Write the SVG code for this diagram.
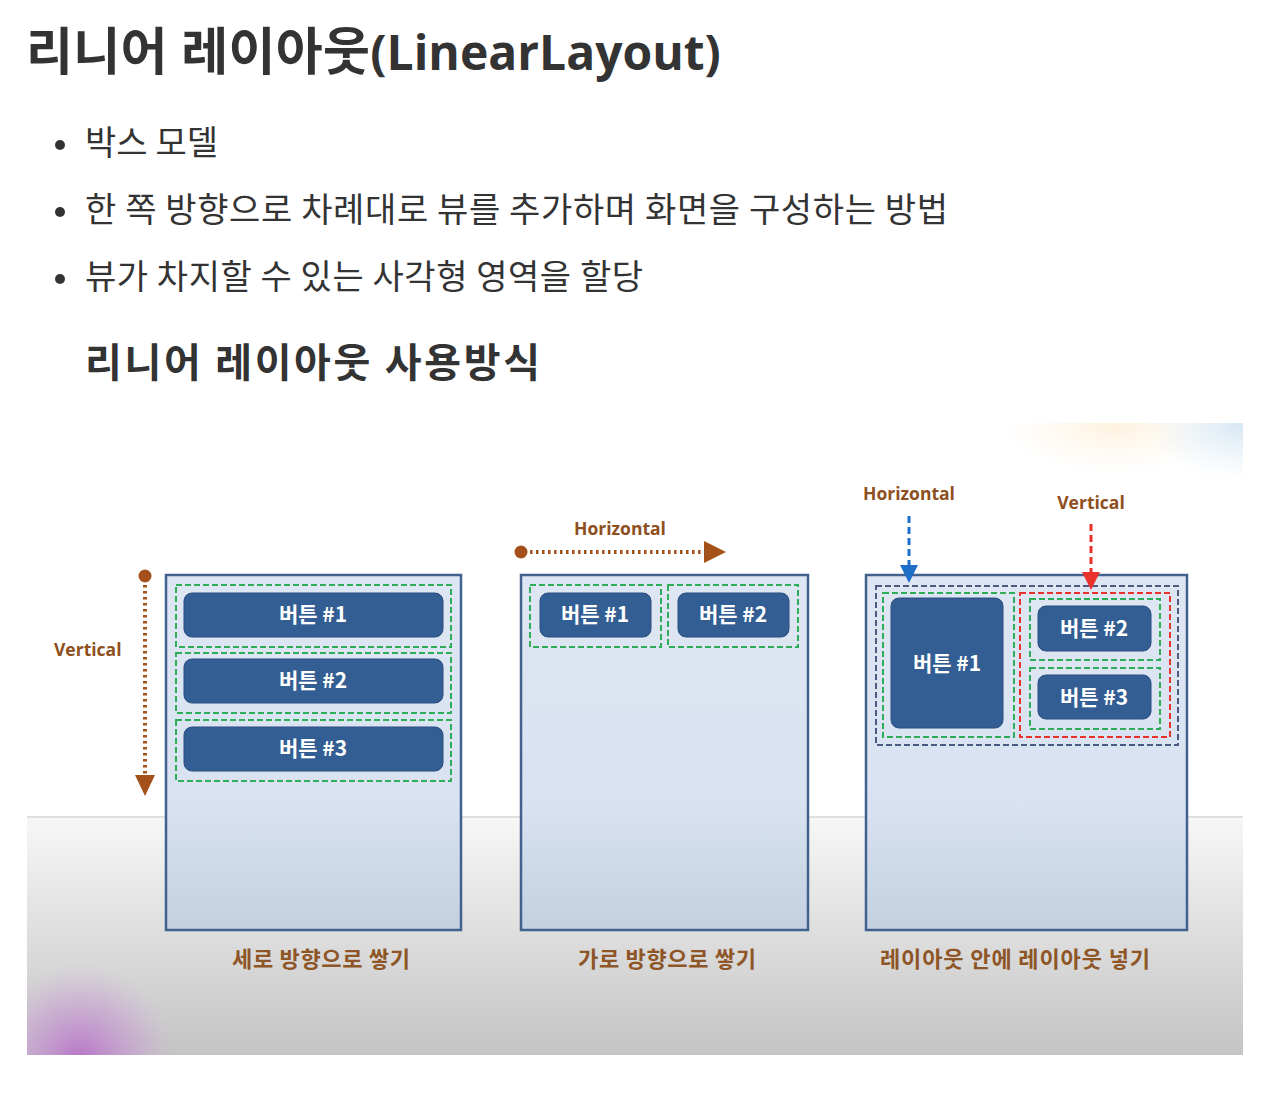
<svg xmlns="http://www.w3.org/2000/svg" width="1273" height="1101" viewBox="0 0 1273 1101">
<defs>
<style>
.h1{font-family:"Open Sans","Noto Sans CJK KR",sans-serif;font-weight:700;font-size:48px;fill:#333}
.h2{font-family:"Noto Sans CJK KR",sans-serif;font-weight:700;font-size:40px;fill:#333}
.li{font-family:"Noto Sans CJK KR",sans-serif;font-weight:400;font-size:34px;fill:#333}
.panel{fill:url(#pg);stroke:#41628f;stroke-width:2.5}
.btn{fill:#335e94;stroke:#2a4f80;stroke-width:1}
.bt{font-family:"Noto Sans CJK KR",sans-serif;font-weight:700;font-size:21px;fill:#fff;text-anchor:middle}
.g{fill:none;stroke:#2fae5a;stroke-width:2;stroke-dasharray:6 3}
.nv{fill:none;stroke:#4b5a80;stroke-width:2;stroke-dasharray:6 3}
.rd{fill:none;stroke:#e8322b;stroke-width:2;stroke-dasharray:6 3}
.lab{font-family:"Open Sans","Noto Sans CJK KR",sans-serif;font-weight:700;font-size:17.5px;fill:#8e4f20}
.cap{font-family:"Noto Sans CJK KR",sans-serif;font-weight:700;font-size:22px;fill:#8e5526;text-anchor:middle}
.dot{fill:none;stroke:#a4501a;stroke-width:4;stroke-dasharray:2.5 3.5}
</style>
<linearGradient id="bg" x1="0" y1="0" x2="0" y2="1">
<stop offset="0" stop-color="#f7f7f7"/>
<stop offset="1" stop-color="#c4c4c4"/>
</linearGradient>
<linearGradient id="pg" x1="0" y1="0" x2="0" y2="1">
<stop offset="0" stop-color="#dfe6f3"/>
<stop offset="0.65" stop-color="#d8e2f0"/>
<stop offset="1" stop-color="#c4d0e0"/>
</linearGradient>
<radialGradient id="pur" cx="80" cy="1060" r="95" gradientUnits="userSpaceOnUse">
<stop offset="0" stop-color="#b56cc8" stop-opacity="0.9"/>
<stop offset="0.6" stop-color="#c890d6" stop-opacity="0.45"/>
<stop offset="1" stop-color="#d0a8dc" stop-opacity="0"/>
</radialGradient>
<radialGradient id="peach" cx="1115" cy="425" r="80" gradientUnits="userSpaceOnUse" gradientTransform="translate(1115 425) scale(1.4 0.6) translate(-1115 -425)">
<stop offset="0" stop-color="#fdecd0" stop-opacity="0.7"/>
<stop offset="1" stop-color="#fff4e0" stop-opacity="0"/>
</radialGradient>
<radialGradient id="blue" cx="1240" cy="425" r="80" gradientUnits="userSpaceOnUse" gradientTransform="translate(1240 425) scale(1.2 0.7) translate(-1240 -425)">
<stop offset="0" stop-color="#d3e5f1" stop-opacity="0.9"/>
<stop offset="1" stop-color="#e4f0f8" stop-opacity="0"/>
</radialGradient>
<clipPath id="img"><rect x="27" y="423" width="1216" height="632"/></clipPath>
</defs>
<rect width="1273" height="1101" fill="#fff"/>

<g id="header">
<text class="h1" x="26" y="70"><tspan font-size="51" textLength="344">리니어 레이아웃</tspan><tspan>(LinearLayout)</tspan></text>
<circle cx="60" cy="145" r="5" fill="#333"/>
<text class="li" x="85" y="155" textLength="133">박스 모델</text>
<circle cx="60" cy="212" r="5" fill="#333"/>
<text class="li" x="85" y="222" textLength="863">한 쪽 방향으로 차례대로 뷰를 추가하며 화면을 구성하는 방법</text>
<circle cx="60" cy="279" r="5" fill="#333"/>
<text class="li" x="85" y="289" textLength="558">뷰가 차지할 수 있는 사각형 영역을 할당</text>
<text class="h2" x="85" y="377" textLength="455">리니어 레이아웃 사용방식</text>
</g>

<g id="background" clip-path="url(#img)">
<rect x="27" y="423" width="1216" height="632" fill="#fff"/>
<rect x="27" y="423" width="1216" height="80" fill="url(#peach)"/>
<rect x="27" y="423" width="1216" height="80" fill="url(#blue)"/>
<rect x="27" y="817" width="1216" height="238" fill="url(#bg)"/>
<line x1="27" y1="817" x2="1243" y2="817" stroke="#d6d6d6" stroke-width="1.5"/>
<rect x="27" y="940" width="200" height="115" fill="url(#pur)"/>
</g>

<g id="panel1">
<rect class="panel" x="166" y="575" width="295" height="355"/>
<rect class="g" x="176" y="585" width="275" height="62"/>
<rect class="g" x="176" y="653" width="275" height="60"/>
<rect class="g" x="176" y="720" width="275" height="61"/>
<rect class="btn" x="184" y="593" width="259" height="44" rx="8"/>
<rect class="btn" x="184" y="659" width="259" height="44" rx="8"/>
<rect class="btn" x="184" y="727" width="259" height="44" rx="8"/>
<text class="bt" x="313" y="622">버튼 #1</text>
<text class="bt" x="313" y="688">버튼 #2</text>
<text class="bt" x="313" y="756">버튼 #3</text>
<text class="cap" x="321" y="967" textLength="178">세로 방향으로 쌓기</text>
</g>

<g id="panel2">
<rect class="panel" x="521" y="575" width="287" height="355"/>
<rect class="g" x="530" y="585" width="131" height="62"/>
<rect class="g" x="668" y="585" width="130" height="62"/>
<rect class="btn" x="540" y="593" width="111" height="44" rx="8"/>
<rect class="btn" x="678" y="593" width="111" height="44" rx="8"/>
<text class="bt" x="595" y="622">버튼 #1</text>
<text class="bt" x="733" y="622">버튼 #2</text>
<text class="cap" x="667" y="967" textLength="178">가로 방향으로 쌓기</text>
</g>

<g id="panel3">
<rect class="panel" x="866" y="575" width="321" height="355"/>
<rect class="nv" x="876" y="586" width="302" height="159"/>
<rect class="g" x="883" y="593" width="131" height="144"/>
<rect class="rd" x="1020" y="593" width="150" height="144"/>
<rect class="g" x="1030" y="599" width="130" height="61"/>
<rect class="g" x="1030" y="668" width="130" height="61"/>
<rect class="btn" x="891" y="598" width="112" height="130" rx="8"/>
<rect class="btn" x="1038" y="606" width="113" height="45" rx="8"/>
<rect class="btn" x="1038" y="675" width="113" height="44" rx="8"/>
<text class="bt" x="947" y="671">버튼 #1</text>
<text class="bt" x="1094" y="636">버튼 #2</text>
<text class="bt" x="1094" y="705">버튼 #3</text>
<text class="cap" x="1015" y="967" textLength="270">레이아웃 안에 레이아웃 넣기</text>
</g>

<g id="connectors">
<g id="vertical-arrow">
<text class="lab" x="54" y="656">Vertical</text>
<circle cx="145" cy="576" r="6.5" fill="#a4501a"/>
<line class="dot" x1="145" y1="585" x2="145" y2="776"/>
<polygon points="135,775 155,775 145,796" fill="#a4501a"/>
</g>
<g id="horizontal-arrow">
<text class="lab" x="620" y="535" text-anchor="middle">Horizontal</text>
<circle cx="521" cy="552" r="6.5" fill="#a4501a"/>
<line class="dot" x1="530" y1="552" x2="705" y2="552"/>
<polygon points="704,541 704,563 726,552" fill="#a4501a"/>
</g>
<g id="blue-arrow">
<text class="lab" x="909" y="500" text-anchor="middle">Horizontal</text>
<line x1="909" y1="516" x2="909" y2="566" stroke="#1f6fc9" stroke-width="3" stroke-dasharray="7 4"/>
<polygon points="900,565 918,565 909,583" fill="#1f6fc9"/>
</g>
<g id="red-arrow">
<text class="lab" x="1091" y="509" text-anchor="middle">Vertical</text>
<line x1="1091" y1="524" x2="1091" y2="573" stroke="#e8322b" stroke-width="3" stroke-dasharray="7 4"/>
<polygon points="1082,572 1100,572 1091,590" fill="#e8322b"/>
</g>
</g>
</svg>
